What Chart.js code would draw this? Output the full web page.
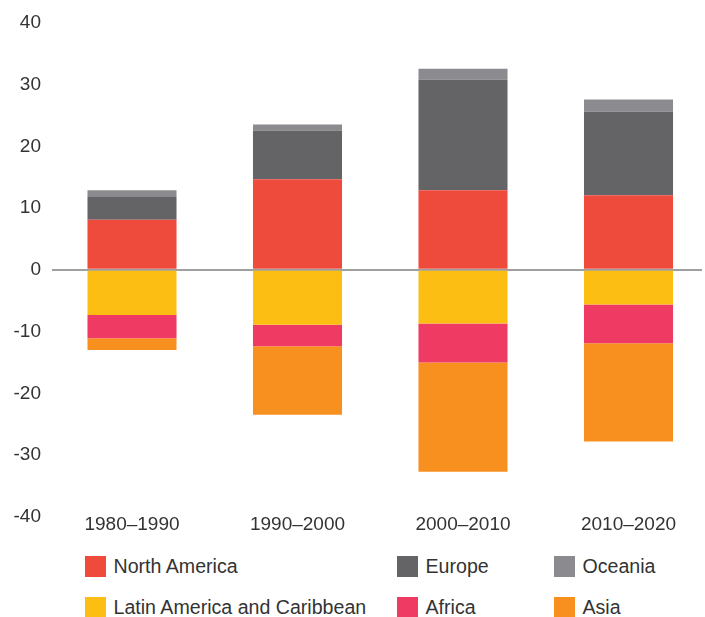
<!DOCTYPE html>
<html>
<head>
<meta charset="utf-8">
<script src="https://cdn.jsdelivr.net/npm/chart.js@4"></script>
<style>
  body { margin: 0; background: #fff; font-family: "Liberation Sans", Arial, Helvetica, sans-serif; color: #333; }
  #wrap { position: relative; width: 705px; height: 617px; overflow: hidden; }
  #box { position: absolute; left: 0; top: 0; width: 705px; height: 545px; }
  .item { position: absolute; display: flex; align-items: center; font-size: 19.6px; height: 21px; }
  .sw { width: 21px; height: 21px; margin-right: 7.5px; }
</style>
</head>
<body>
<div id="wrap">
  <div id="box"><canvas id="myChart"></canvas></div>
  <div id="legend"></div>
</div>
<script>
const periods = ["1980–1990", "1990–2000", "2000–2010", "2010–2020"];

// positive side (stacked upward from zero)
const northAmerica = [8.1, 14.7, 12.9, 12.1];
const europe = [3.7, 7.9, 17.9, 13.5];
const oceania = [1.1, 0.95, 1.8, 2.0];

// negative side (stacked downward from zero)
const latinAmerica = [-7.3, -8.9, -8.7, -5.6];
const africa = [-3.8, -3.5, -6.3, -6.3];
const asia = [-1.9, -11.1, -17.7, -15.9];

const yTicks = [-40, -30, -20, -10, 0, 10, 20, 30, 40];

const series = [
  { label: "North America", values: northAmerica, color: "#ef4b3c" },
  { label: "Europe", values: europe, color: "#646466" },
  { label: "Oceania", values: oceania, color: "#8b8b8f" },
  { label: "Latin America and Caribbean", values: latinAmerica, color: "#fdbe14" },
  { label: "Africa", values: africa, color: "#ef3b64" },
  { label: "Asia", values: asia, color: "#f7901f" },
];

const ctx = document.getElementById("myChart");

new Chart(ctx, {
  type: "bar",
  data: {
    datasets: series.map((s) => ({
      label: s.label,
      data: s.values.map((v, i) => ({ x: i, y: v })),
      backgroundColor: s.color,
      borderWidth: 0,
      barPercentage: 0.538,
      categoryPercentage: 1,
    })),
  },
  options: {
    responsive: true,
    maintainAspectRatio: false,
    animation: false,
    layout: { padding: { top: 23, right: 3, left: 0, bottom: 0 } },
    plugins: { legend: { display: false }, tooltip: { enabled: false } },
    scales: {
      x: {
        type: "linear",
        stacked: true,
        offset: false,
        min: -0.4834,
        max: 3.4441,
        grid: { display: false, offset: false },
        border: { display: false },
        ticks: {
          stepSize: 1,
          includeBounds: false,
          padding: -11,
          color: "#333",
          font: { size: 19, family: "'Liberation Sans', Arial, sans-serif" },
          callback: (value) => periods[value] ?? "",
        },
        afterFit: (scale) => { scale.height = 28.3; },
      },
      y: {
        stacked: true,
        min: yTicks[0],
        max: yTicks[yTicks.length - 1],
        grid: {
          drawTicks: false,
          lineWidth: 2,
          color: (c) => (c.tick && c.tick.value === 0 ? "#a0a0a0" : "rgba(0,0,0,0)"),
        },
        border: { display: false },
        afterBuildTicks: (scale) => { scale.ticks = yTicks.map((v) => ({ value: v })); },
        ticks: {
          padding: 11,
          color: "#333",
          font: { size: 19, family: "'Liberation Sans', Arial, sans-serif" },
        },
        afterFit: (scale) => { scale.width = 52; },
      },
    },
  },
});

// legend in three columns, two rows
const legend = document.getElementById("legend");
const colLeft = [85, 397, 554];
const rowTop = [556, 597];
series.forEach((s, i) => {
  const item = document.createElement("div");
  item.className = "item";
  item.style.left = colLeft[i % 3] + "px";
  item.style.top = rowTop[Math.floor(i / 3)] + "px";
  item.innerHTML = '<span class="sw" style="background:' + s.color + '"></span><span>' + s.label + "</span>";
  legend.appendChild(item);
});
</script>
</body>
</html>
